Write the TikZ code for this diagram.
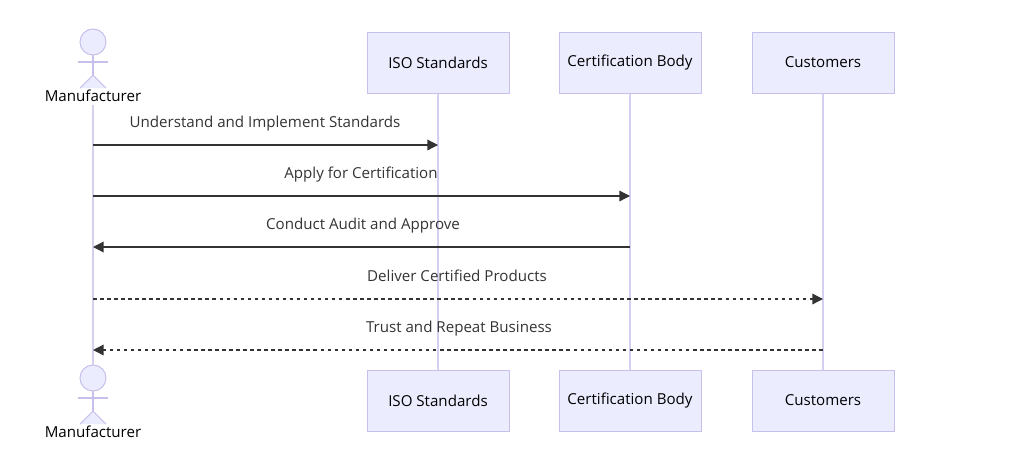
\documentclass[tikz,border=0pt]{standalone}
\usepackage{fontspec}
\setmainfont{Open Sans}
\usetikzlibrary{arrows.meta}
\definecolor{boxfill}{HTML}{ECECFF}
\definecolor{boxline}{HTML}{C8C0EC}
\definecolor{lifeline}{HTML}{D6D0F0}
\definecolor{msg}{HTML}{333333}
\begin{document}
\begin{tikzpicture}
  [
    x=0.02cm, y=-0.02cm,
    font=\fontsize{8.6}{10}\selectfont,
    party/.style={draw=boxline, fill=boxfill, minimum width=2.84cm, minimum height=1.22cm},
    actorline/.style={draw=boxline, fill=boxfill, line width=0.6pt},
    life/.style={draw=lifeline, line width=0.8pt},
    call/.style={draw=msg, line width=0.7pt, -{Triangle[length=6pt,width=6pt]}},
    reply/.style={call, dash pattern=on 2pt off 2pt},
    msglabel/.style={text=msg, anchor=base}
  ]
  \useasboundingbox (0,0) rectangle (1024,471);
  % lifelines
  \coordinate (mtop) at (93,105);
  \coordinate (mbot) at (93,365);
  \draw[life] (mtop) -- (mbot);
  \foreach \name/\x in {iso/438, cert/630, cust/823} {
    \draw[life] (\x,93) -- (\x,370);
  }
  % participants
  \node[party] (isoT) at (438,62.5) {ISO Standards};
  \node[party] (certT) at (630,62.5) {Certification Body};
  \node[party] (custT) at (823,62.5) {Customers};
  \node[party] (isoB) at (438,400.5) {ISO Standards};
  \node[party] (certB) at (630,400.5) {Certification Body};
  \node[party] (custB) at (823,400.5) {Customers};
  % actors
  \foreach \y/\n in {0/top, 336/bot} {
    \draw[actorline] (93,42+\y) circle (13);
    \draw[actorline] (93,55+\y) -- (93,75+\y);
    \draw[actorline] (78,62+\y) -- (108,62+\y);
    \draw[actorline] (80,88+\y) -- (93,75+\y) -- (106,88+\y);
    \node[anchor=base] (man\n) at (93,101+\y) {Manufacturer};
  }
  % messages
  \coordinate (m1) at (93,145); \coordinate (i1) at (438,145);
  \coordinate (m2) at (93,196); \coordinate (c2) at (630,196);
  \coordinate (m3) at (93,247); \coordinate (c3) at (630,247);
  \coordinate (m4) at (93,299); \coordinate (u4) at (823,299);
  \coordinate (m5) at (93,350); \coordinate (u5) at (823,350);
  \draw[call] (m1) -- (i1);
  \draw[call] (m2) -- (c2);
  \draw[call] (c3) -- (m3);
  \draw[reply] (m4) -- (u4);
  \draw[reply] (u5) -- (m5);
  \node[msglabel] (l1) at (265,127) {Understand and Implement Standards};
  \node[msglabel] (l2) at (361,178) {Apply for Certification};
  \node[msglabel] (l3) at (363,229) {Conduct Audit and Approve};
  \node[msglabel] (l4) at (457,281) {Deliver Certified Products};
  \node[msglabel] (l5) at (459,332) {Trust and Repeat Business};
\end{tikzpicture}
\end{document}
